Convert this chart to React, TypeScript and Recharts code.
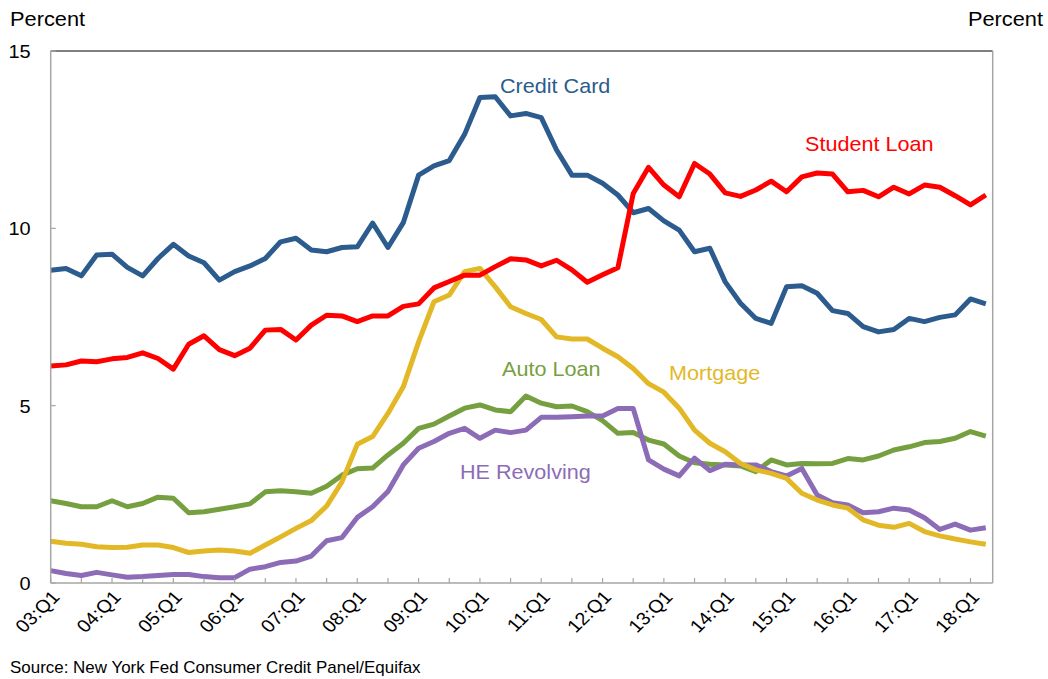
import React from 'react';
import { LineChart, Line, XAxis, YAxis, ReferenceLine } from 'recharts';

// quarterly, 03:Q1 .. 18:Q2
const yearLabels = ['03:Q1', '04:Q1', '05:Q1', '06:Q1', '07:Q1', '08:Q1', '09:Q1', '10:Q1', '11:Q1', '12:Q1', '13:Q1', '14:Q1', '15:Q1', '16:Q1', '17:Q1', '18:Q1'];
const xTicks = [0, 2, 4, 6, 8, 10, 12, 14, 16, 18, 20, 22, 24, 26, 28, 30, 32, 34, 36, 38, 40, 42, 44, 46, 48, 50, 52, 54, 56, 58, 60];
const yTicks = [0, 5, 10, 15];

const creditCard = [8.82, 8.87, 8.66, 9.25, 9.27, 8.9, 8.66, 9.15, 9.55, 9.22, 9.03, 8.54, 8.78, 8.94, 9.15, 9.62, 9.72, 9.39, 9.34, 9.46, 9.48, 10.15, 9.46, 10.16, 11.5, 11.76, 11.91, 12.65, 13.69, 13.71, 13.17, 13.24, 13.12, 12.21, 11.5, 11.5, 11.27, 10.94, 10.44, 10.56, 10.21, 9.95, 9.34, 9.44, 8.49, 7.89, 7.46, 7.32, 8.35, 8.38, 8.17, 7.68, 7.6, 7.23, 7.08, 7.15, 7.46, 7.37, 7.49, 7.56, 8.01, 7.87];
const studentLoan = [6.12, 6.15, 6.26, 6.24, 6.32, 6.36, 6.49, 6.33, 6.03, 6.73, 6.97, 6.58, 6.41, 6.62, 7.13, 7.15, 6.85, 7.27, 7.55, 7.53, 7.37, 7.53, 7.53, 7.8, 7.87, 8.32, 8.5, 8.68, 8.68, 8.92, 9.14, 9.11, 8.94, 9.1, 8.83, 8.48, 8.69, 8.89, 10.98, 11.72, 11.22, 10.89, 11.83, 11.53, 11.0, 10.9, 11.08, 11.33, 11.03, 11.45, 11.56, 11.53, 11.03, 11.07, 10.89, 11.16, 10.97, 11.22, 11.16, 10.92, 10.66, 10.94];
const autoLoan = [2.32, 2.24, 2.15, 2.15, 2.32, 2.15, 2.24, 2.42, 2.39, 1.98, 2.01, 2.08, 2.15, 2.23, 2.57, 2.6, 2.57, 2.53, 2.73, 3.04, 3.22, 3.24, 3.61, 3.94, 4.36, 4.48, 4.71, 4.93, 5.02, 4.88, 4.83, 5.27, 5.07, 4.97, 4.99, 4.83, 4.58, 4.22, 4.24, 4.03, 3.92, 3.58, 3.39, 3.35, 3.33, 3.3, 3.14, 3.47, 3.33, 3.37, 3.36, 3.37, 3.51, 3.47, 3.58, 3.75, 3.84, 3.96, 3.99, 4.08, 4.27, 4.14];
const mortgage = [1.18, 1.12, 1.09, 1.02, 1.0, 1.01, 1.07, 1.07, 1.0, 0.86, 0.9, 0.93, 0.9, 0.84, 1.07, 1.3, 1.54, 1.76, 2.17, 2.85, 3.91, 4.13, 4.78, 5.53, 6.8, 7.93, 8.12, 8.78, 8.87, 8.35, 7.79, 7.6, 7.43, 6.94, 6.88, 6.88, 6.62, 6.38, 6.05, 5.62, 5.38, 4.93, 4.31, 3.94, 3.7, 3.37, 3.19, 3.09, 2.95, 2.53, 2.34, 2.2, 2.11, 1.78, 1.63, 1.57, 1.68, 1.45, 1.33, 1.24, 1.16, 1.09];
const heRevolving = [0.35, 0.27, 0.21, 0.3, 0.23, 0.16, 0.18, 0.21, 0.24, 0.24, 0.18, 0.15, 0.15, 0.39, 0.46, 0.58, 0.62, 0.76, 1.19, 1.28, 1.85, 2.15, 2.58, 3.33, 3.8, 3.99, 4.22, 4.36, 4.08, 4.31, 4.24, 4.31, 4.67, 4.67, 4.69, 4.71, 4.71, 4.92, 4.92, 3.47, 3.21, 3.02, 3.52, 3.17, 3.35, 3.33, 3.33, 3.14, 3.02, 3.23, 2.48, 2.26, 2.2, 1.98, 2.01, 2.11, 2.06, 1.84, 1.51, 1.66, 1.49, 1.56];

const data = creditCard.map((v, i) => ({
  q: i,
  creditCard: v,
  studentLoan: studentLoan[i],
  autoLoan: autoLoan[i],
  mortgage: mortgage[i],
  heRevolving: heRevolving[i],
}));

const FONT = '"Liberation Sans", Arial, sans-serif';
const AXIS = '#a6a6a6';

const COLORS = {
  creditCard: '#2c5b8d',
  studentLoan: '#ff0000',
  autoLoan: '#76a040',
  mortgage: '#e3b826',
  heRevolving: '#8c6cb7',
};

// text slightly stretched horizontally, like the source image
const SText = ({ x, y, sx = 1.08, size, fill = '#000', anchor = 'start', rotate = 0, children }: any) => (
  <text
    transform={`translate(${x},${y}) scale(${sx},1) rotate(${rotate})`}
    x={0}
    y={0}
    textAnchor={anchor}
    fontSize={size}
    fontFamily={FONT}
    fill={fill}
  >
    {children}
  </text>
);

const XTick = ({ x, y, payload }: any) => {
  const idx = payload.value;
  return (
    <g>
      <line x1={x} x2={x} y1={y} y2={y - 5} stroke={AXIS} strokeWidth={1.2} />
      {idx % 4 === 0 && (
        <SText x={x + 10} y={y + 15} sx={1.1} size={18} anchor="end" rotate={-47}>
          {yearLabels[idx / 4]}
        </SText>
      )}
    </g>
  );
};

const LeftTick = ({ x, y, payload }: any) => (
  <g>
    <line x1={x} x2={x + 5} y1={y} y2={y} stroke={AXIS} strokeWidth={1.2} />
    <SText x={x - 20} y={y + 7} sx={1.05} size={19} anchor="end">{payload.value}</SText>
  </g>
);

const RightTick = ({ x, y, payload }: any) => (
  <g>
    <line x1={x} x2={x - 5} y1={y} y2={y} stroke={AXIS} strokeWidth={1.2} />
    <SText x={x + 20} y={y + 7} sx={1.05} size={19} anchor="start">{payload.value}</SText>
  </g>
);

export default function App() {
  const lineProps = { type: 'linear' as const, dot: false, strokeWidth: 5, strokeLinejoin: 'round' as const, isAnimationActive: false, yAxisId: 'left' };
  return (
    <div style={{ position: 'absolute', left: 0, top: 0, width: 1048, height: 679, background: '#fff' }}>
      <LineChart width={1048} height={679} data={data} margin={{ top: 51, right: 10, bottom: 10, left: 10 }}>
        <XAxis
          dataKey="q"
          type="number"
          domain={[0, 61.45]}
          allowDataOverflow
          ticks={xTicks}
          interval={0}
          height={86}
          tickSize={0}
          tickMargin={0}
          tickLine={false}
          axisLine={{ stroke: AXIS, strokeWidth: 1.5 }}
          tick={<XTick />}
        />
        <YAxis
          yAxisId="left"
          orientation="left"
          type="number"
          domain={[0, 15]}
          ticks={yTicks}
          interval={0}
          width={40.7}
          tickSize={0}
          tickMargin={0}
          tickLine={false}
          axisLine={{ stroke: AXIS, strokeWidth: 1.5 }}
          tick={<LeftTick />}
        />
        <YAxis
          yAxisId="right"
          orientation="right"
          type="number"
          domain={[0, 15]}
          ticks={yTicks}
          interval={0}
          width={45.3}
          tickSize={0}
          tickMargin={0}
          tickLine={false}
          axisLine={{ stroke: AXIS, strokeWidth: 1.5 }}
          tick={<RightTick />}
        />
        <ReferenceLine yAxisId="left" y={15} stroke="#7f7f7f" strokeWidth={2} />
        <Line {...lineProps} dataKey="autoLoan" stroke={COLORS.autoLoan} />
        <Line {...lineProps} dataKey="heRevolving" stroke={COLORS.heRevolving} />
        <Line {...lineProps} dataKey="mortgage" stroke={COLORS.mortgage} />
        <Line {...lineProps} dataKey="creditCard" stroke={COLORS.creditCard} />
        <Line {...lineProps} dataKey="studentLoan" stroke={COLORS.studentLoan} />
      </LineChart>

      {/* titles, series labels, source */}
      <svg width={1048} height={679} style={{ position: 'absolute', left: 0, top: 0, pointerEvents: 'none' }}>
        <SText x={10} y={26} sx={1.09} size={20}>Percent</SText>
        <SText x={1043} y={26} sx={1.09} size={20} anchor="end">Percent</SText>
        <SText x={500} y={93} size={20} fill={COLORS.creditCard}>Credit Card</SText>
        <SText x={805} y={151} size={20} fill={COLORS.studentLoan}>Student Loan</SText>
        <SText x={502} y={376} size={20} fill={COLORS.autoLoan}>Auto Loan</SText>
        <SText x={669} y={380} size={20} fill={COLORS.mortgage}>Mortgage</SText>
        <SText x={460} y={479} size={20} fill={COLORS.heRevolving}>HE Revolving</SText>
        <SText x={10} y={673} sx={1.06} size={16}>Source: New York Fed Consumer Credit Panel/Equifax</SText>
      </svg>
    </div>
  );
}
